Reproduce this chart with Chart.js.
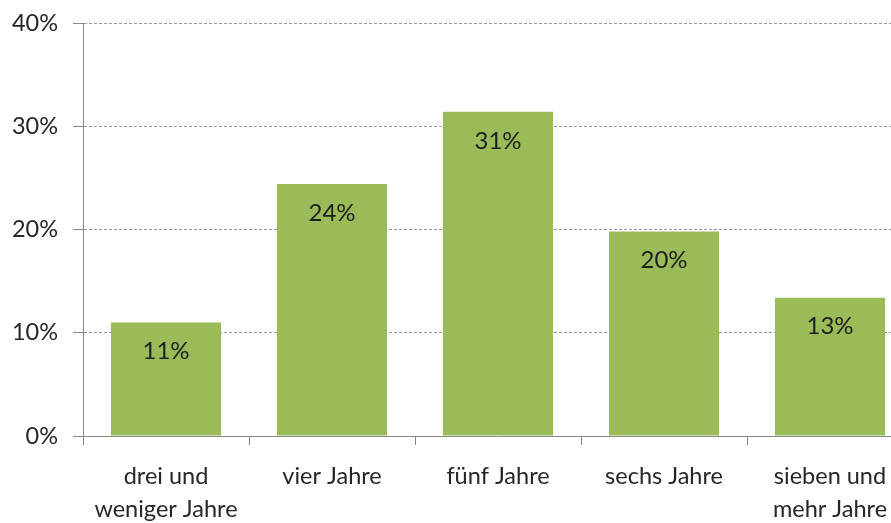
<!DOCTYPE html>
<html>
<head>
<meta charset="utf-8">
<script src="https://cdn.jsdelivr.net/npm/chart.js@4"></script>
<style>
  html, body { margin: 0; padding: 0; background: #fff; overflow: hidden; }
  #wrap { width: 913px; height: 523px; }
</style>
</head>
<body>
<div id="wrap"><canvas id="dauerChart" width="913" height="523"></canvas></div>
<script>
/* data */
const categories = [
  ["drei und", "weniger Jahre"],
  "vier Jahre",
  "fünf Jahre",
  "sechs Jahre",
  ["sieben und", "mehr Jahre"]
];
const shares = [11, 24.4, 31.4, 19.8, 13.4];
const shareLabels = ["11%", "24%", "31%", "20%", "13%"];
const yTicks = [0, 10, 20, 30, 40];

/* labels inside bars, near the top */
const barLabels = {
  id: "barLabels",
  afterDatasetsDraw(chart) {
    const c = chart.ctx;
    const meta = chart.getDatasetMeta(0);
    c.save();
    c.font = "24px Lato";
    c.fillStyle = "#1e1e1e";
    c.textAlign = "center";
    c.textBaseline = "middle";
    meta.data.forEach((bar, i) => {
      c.fillText(shareLabels[i], bar.x, bar.y + 29);
    });
    c.restore();
  }
};

const ctx = document.getElementById("dauerChart");

new Chart(ctx, {
  type: "bar",
  data: {
    labels: categories,
    datasets: [{
      data: shares,
      backgroundColor: "#9bbb59",
      borderWidth: 0,
      barPercentage: 0.663,
      categoryPercentage: 1
    }]
  },
  options: {
    responsive: false,
    animation: false,
    layout: { padding: { top: 23, left: 0, right: 0, bottom: 0 } },
    plugins: {
      legend: { display: false },
      tooltip: { enabled: false }
    },
    scales: {
      x: {
        afterFit: (s) => { s.height = 87; },
        grid: {
          offset: true,
          drawOnChartArea: false,
          tickLength: 9,
          tickColor: "#888"
        },
        border: { color: "#888", width: 1 },
        ticks: {
          color: "#262626",
          padding: 15,
          maxRotation: 0,
          font: { family: "Lato", size: 23.5, lineHeight: 1.4 }
        }
      },
      y: {
        min: 0,
        max: 40,
        afterFit: (s) => {
          s.width = 83;
          s.paddingTop = 0;
          s.paddingBottom = 0;
        },
        afterBuildTicks: (s) => { s.ticks = yTicks.map(v => ({ value: v })); },
        grid: {
          color: "#999",
          tickLength: 10,
          tickColor: "#888",
          tickBorderDash: []
        },
        border: { color: "#888", width: 1, dash: [3, 2] },
        ticks: {
          color: "#262626",
          padding: 15,
          font: { family: "Lato", size: 23.5 },
          callback: (v) => v + "%"
        }
      }
    }
  },
  plugins: [barLabels]
});
</script>
</body>
</html>
